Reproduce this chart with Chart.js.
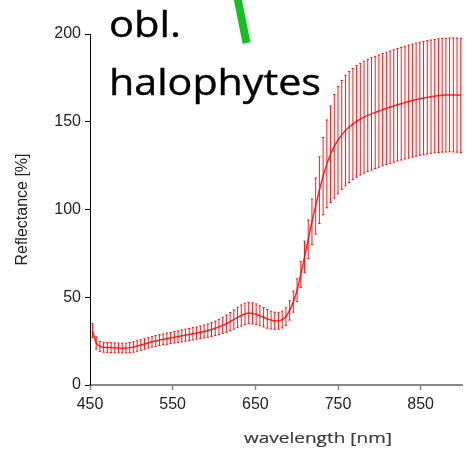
<!DOCTYPE html>
<html>
<head>
<meta charset="utf-8">
<script src="https://cdn.jsdelivr.net/npm/chart.js@4.4.1/dist/chart.umd.min.js"></script>
<style>
  html, body { margin: 0; padding: 0; background: #fff; }
  #wrap { position: relative; width: 472px; height: 454px; overflow: hidden; }
  #c { position: absolute; left: 0; top: 0; }
  #ov { position: absolute; left: 0; top: 0; pointer-events: none; }
</style>
</head>
<body>
<div id="wrap">
  <canvas id="c" width="472" height="454"></canvas>
  <svg id="ov" width="472" height="454" xmlns="http://www.w3.org/2000/svg">
    <line x1="237.5" y1="-2" x2="246.5" y2="43" stroke="#17bf22" stroke-width="8"/>
    <text x="109" y="37" font-family="Open Sans" font-size="36" fill="#000" stroke="#000" stroke-width="0.4" textLength="72" lengthAdjust="spacingAndGlyphs">obl.</text>
    <text x="109" y="95" font-family="Open Sans" font-size="36" fill="#000" stroke="#000" stroke-width="0.4" textLength="212" lengthAdjust="spacingAndGlyphs">halophytes</text>
    <text x="244" y="443" font-family="Open Sans" font-size="15" fill="#3a3a3a" stroke="#3a3a3a" stroke-width="0.2" textLength="148" lengthAdjust="spacingAndGlyphs">wavelength [nm]</text>
  </svg>
</div>
<script>
const wavelengths = [453, 457.5, 462, 466.5, 471, 475.5, 480, 484.5, 489, 493.5,
  498, 502.5, 507, 511.5, 516, 520.5, 525, 529.5, 534, 538.5,
  543, 547.5, 552, 556.5, 561, 565.5, 570, 574.5, 579, 583.5,
  588, 592.5, 597, 601.5, 606, 610.5, 615, 619.5, 624, 628.5,
  633, 637.5, 642, 646.5, 651, 655.5, 660, 664.5, 669, 673.5,
  678, 682.5, 687, 691.5, 696, 700.5, 705, 709.5, 714, 718.5,
  723, 727.5, 732, 736.5, 741, 745.5, 750, 754.5, 759, 763.5,
  768, 772.5, 777, 781.5, 786, 790.5, 795, 799.5, 804, 808.5,
  813, 817.5, 822, 826.5, 831, 835.5, 840, 844.5, 849, 853.5,
  858, 862.5, 867, 871.5, 876, 880.5, 885, 889.5, 894, 898.5];

const meanReflectance = [31, 24, 22, 21.5, 21.4, 21.3, 21.2, 21.1, 21.0, 21.1,
  21.3, 21.7, 22.2, 22.8, 23.4, 24.0, 24.6, 25.1, 25.6, 26.0,
  26.4, 26.8, 27.2, 27.6, 28.0, 28.4, 28.8, 29.2, 29.6, 30.0,
  30.5, 31.0, 31.6, 32.3, 33.1, 34.0, 35.0, 36.1, 37.3, 38.5,
  39.6, 40.5, 41.0, 40.8, 40.3, 39.5, 38.6, 37.7, 37.0, 36.6,
  36.6, 37.3, 39.0, 42.5, 47.5, 54, 63, 73, 83, 93,
  102, 111, 119, 126, 131.5, 136, 139.5, 142.5, 145, 147,
  148.7, 150.2, 151.5, 152.6, 153.6, 154.5, 155.3, 156.1, 156.9, 157.6,
  158.3, 159.0, 159.7, 160.3, 160.9, 161.5, 162.1, 162.6, 163.1, 163.5,
  163.9, 164.3, 164.6, 164.9, 165.1, 165.2, 165.3, 165.3, 165.2, 165.0];

const errorHalfWidth = [4, 3.5, 2.8, 2.8, 2.8, 2.8, 2.8, 2.8, 2.8, 2.8,
  2.9, 3.0, 3.0, 3.0, 3.0, 3.0, 3.0, 3.1, 3.1, 3.1,
  3.2, 3.2, 3.3, 3.3, 3.4, 3.4, 3.4, 3.5, 3.5, 3.6,
  3.7, 3.8, 3.9, 4.1, 4.3, 4.6, 4.9, 5.2, 5.5, 5.8,
  6.0, 6.1, 6.1, 6.0, 5.9, 5.7, 5.5, 5.3, 5.1, 4.9,
  4.8, 4.8, 5.0, 5.5, 6.0, 6.5, 7.5, 9, 11, 13,
  16, 19, 22, 25, 27.5, 29.5, 30.5, 31, 31.5, 31.6,
  31.7, 31.8, 31.8, 31.9, 31.9, 32, 32, 32, 32, 32,
  32, 32, 32.1, 32.1, 32.1, 32.2, 32.2, 32.2, 32.2, 32.3,
  32.3, 32.3, 32.3, 32.4, 32.4, 32.4, 32.4, 32.5, 32.5, 32.5];

const xTickValues = [450, 550, 650, 750, 850];
const yTickValues = [0, 50, 100, 150, 200];

const points = wavelengths.map((w, i) => ({ x: w, y: meanReflectance[i] }));

const errorBarPlugin = {
  id: 'errorBars',
  beforeDatasetsDraw(chart) {
    const ctx = chart.ctx;
    const xs = chart.scales.x, ys = chart.scales.y;
    ctx.save();
    ctx.strokeStyle = 'rgba(255,0,0,0.9)';
    ctx.lineWidth = 1;
    for (let i = 0; i < wavelengths.length; i++) {
      const px = xs.getPixelForValue(wavelengths[i]);
      const top = ys.getPixelForValue(meanReflectance[i] + errorHalfWidth[i]);
      const bot = ys.getPixelForValue(meanReflectance[i] - errorHalfWidth[i]);
      ctx.beginPath();
      ctx.moveTo(px, top); ctx.lineTo(px, bot);
      ctx.moveTo(px - 1.2, top); ctx.lineTo(px + 1.2, top);
      ctx.moveTo(px - 1.2, bot); ctx.lineTo(px + 1.2, bot);
      ctx.stroke();
    }
    ctx.restore();
  }
};

new Chart(document.getElementById('c'), {
  type: 'line',
  data: {
    datasets: [{
      data: points,
      borderColor: 'rgba(255,0,0,0.85)',
      borderWidth: 1.5,
      pointRadius: 0,
      tension: 0.3,
      fill: false
    }]
  },
  options: {
    responsive: false,
    animation: false,
    events: [],
    layout: { padding: { top: 34, right: 10, left: 0, bottom: 0 } },
    plugins: { legend: { display: false }, tooltip: { enabled: false } },
    scales: {
      x: {
        type: 'linear',
        min: 450, max: 900,
        afterBuildTicks(scale) { scale.ticks = xTickValues.map(v => ({ value: v })); },
        afterFit(scale) { scale.height = 69; },
        grid: { drawOnChartArea: false, drawTicks: true, tickLength: 5, tickColor: '#888', tickWidth: 1.5 },
        border: { display: true, color: '#888', width: 2 },
        ticks: { color: '#222', padding: 5, maxRotation: 0, font: { family: 'Liberation Sans', size: 16 } }
      },
      y: {
        min: 0, max: 200,
        afterBuildTicks(scale) { scale.ticks = yTickValues.map(v => ({ value: v })); },
        afterFit(scale) { scale.width = 90; },
        grid: { drawOnChartArea: false, drawTicks: true, tickLength: 5, tickColor: '#000' },
        border: { display: true, color: '#000', width: 1 },
        ticks: { color: '#222', padding: 4, font: { family: 'Liberation Sans', size: 16 } },
        title: { display: true, text: 'Reflectance [%]', color: '#222', padding: { top: 13, bottom: 0 }, font: { family: 'Liberation Sans', size: 16 } }
      }
    }
  },
  plugins: [errorBarPlugin]
});
</script>
</body>
</html>
